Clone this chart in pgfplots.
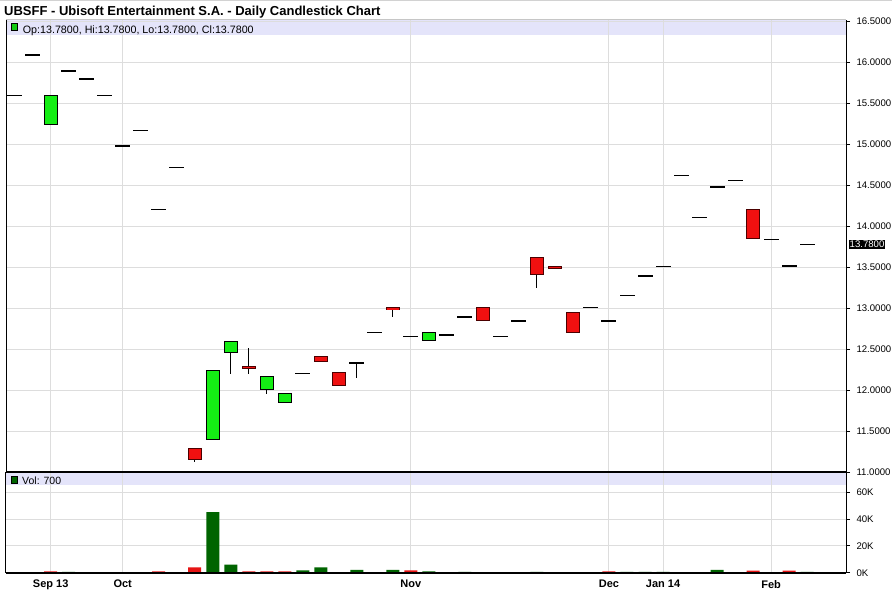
\documentclass[border=0pt]{standalone}
\usepackage{pgfplots}
\pgfplotsset{compat=1.18}
\usepackage{pgfplotstable}
\usepackage{fontspec}
\setmainfont{Liberation Sans}
\definecolor{bandc}{RGB}{228,228,250}
\definecolor{gridc}{RGB}{221,221,221}
\definecolor{upc}{RGB}{20,238,20}
\definecolor{dnc}{RGB}{240,16,16}
\definecolor{dnb}{RGB}{75,0,0}
\definecolor{vup}{RGB}{0,100,0}
\definecolor{vdn}{RGB}{230,20,20}

% rising candles (close > open)
\pgfplotstableread{
x  o     c
2  15.24 15.60
11 11.40 12.24
12 12.46 12.59
14 12.01 12.17
15 11.85 11.96
23 12.61 12.71
}\upc
% falling candles (close < open)
\pgfplotstableread{
x  o     c
10 11.29 11.16
13 12.29 12.27
17 12.41 12.35
18 12.22 12.06
21 13.01 12.98
26 13.01 12.85
29 13.62 13.41
30 13.51 13.49
31 12.95 12.71
41 14.21 13.85
}\dnc
% flat candles (open = close); e = half line thickness in price units
\pgfplotstableread{
x  c     e
0  15.60 0.0061
1  16.09 0.0061
3  15.90 0.0061
4  15.80 0.0061
5  15.60 0.0061
6  14.98 0.0061
7  15.17 0.0061
8  14.21 0.0061
9  14.72 0.0061
16 12.21 0.0061
19 12.335 0.012
20 12.71 0.0061
22 12.66 0.0061
24 12.68 0.0061
25 12.90 0.0061
27 12.66 0.0061
28 12.85 0.0061
32 13.01 0.0061
33 12.85 0.0061
34 13.16 0.0061
35 13.40 0.0061
36 13.51 0.0061
37 14.62 0.0061
38 14.11 0.0061
39 14.48 0.0061
40 14.56 0.0061
42 13.84 0.0061
43 13.515 0.012
44 13.78 0.0061
}\flatc
% high / low
\pgfplotstableread{
x  h     l
2  15.60 15.24
10 11.29 11.13
11 12.24 11.40
12 12.59 12.20
13 12.51 12.20
14 12.17 11.96
15 11.96 11.85
17 12.41 12.35
18 12.22 12.06
19 12.35 12.15
21 13.01 12.90
23 12.71 12.61
26 13.01 12.85
29 13.62 13.25
30 13.51 13.49
31 12.95 12.71
41 14.21 13.85
}\hilo
% volume, close above previous close
\pgfplotstableread{
x  v
0  100
1  100
3  700
7  100
9  100
11 45300
12 6000
16 1700
17 4000
19 2200
20 100
21 2200
23 1000
25 700
28 100
29 700
30 100
32 100
34 700
35 700
36 700
37 100
39 2200
40 100
44 700
}\volup
% volume, close below previous close
\pgfplotstableread{
x  v
2  1000
4  100
5  100
6  100
8  1000
10 4000
13 1000
14 1000
15 1000
18 100
22 1700
24 100
26 100
27 100
31 100
33 1000
38 100
41 1500
42 100
43 1500
}\voldn

\pgfplotsset{
  common/.style={
    scale only axis, width=840pt, xmin=-0.48, xmax=46.16,
    axis line style={draw=none},
    xtick={2,6,22,33,36,42},
    xtick style={draw=none},
    ytick pos=right, yticklabel pos=right,
    tick align=outside, major tick length=4pt,
    y tick style={black, line width=1pt},
    grid=major, grid style={gridc, line width=1pt},
    /pgf/number format/assume math mode=true,
    anchor=north west, clip=false,
  },
  errb/.style 2 args={only marks, mark=*, mark options={draw=none, fill=none, draw opacity=0, fill opacity=0}, forget plot,
    error bars/.cd, y dir=both, y explicit, error mark=none,
    error bar style={#1, line width=#2, solid, draw opacity=1}},
}

\begin{document}
\begin{tikzpicture}
\useasboundingbox (0,0) rectangle (892pt,-590pt);
\draw[gray!35, line width=1pt] (0,-0.5pt) -- (892pt,-0.5pt);
\node[anchor=base west, inner sep=0, font=\bfseries\fontsize{13}{15}\selectfont] at (4pt,-15pt) {UBSFF - Ubisoft Entertainment S.A. - Daily Candlestick Chart};
% header bands (drawn under the axes' grids)
\fill[bandc] (6pt,-19.5pt) rectangle (846pt,-35pt);
\fill[bandc] (6pt,-472.3pt) rectangle (846pt,-485pt);

\begin{axis}[common, at={(6pt,-19.5pt)}, height=452.8pt,
  ymin=11, ymax=16.522,
  xticklabels={},
  ytick={11,11.5,12,12.5,13,13.5,14,14.5,15,15.5,16,16.5},
  yticklabel style={font=\fontsize{9.6}{10}\selectfont, xshift=3pt,
    /pgf/number format/.cd, fixed, fixed zerofill, precision=4},
]
% wicks
\addplot[errb={black}{1pt}]
  table[x=x, y expr={(\thisrow{h}+\thisrow{l})/2}, y error expr={(\thisrow{h}-\thisrow{l})/2}] {\hilo};
% rising bodies
\addplot[errb={black}{14.3pt}]
  table[x=x, y expr={(\thisrow{o}+\thisrow{c})/2}, y error expr={(\thisrow{c}-\thisrow{o})/2+0.0061}] {\upc};
\addplot[errb={upc}{12.3pt}]
  table[x=x, y expr={(\thisrow{o}+\thisrow{c})/2}, y error expr={(\thisrow{c}-\thisrow{o})/2-0.0061}] {\upc};
% falling bodies
\addplot[errb={dnb}{14.3pt}]
  table[x=x, y expr={(\thisrow{o}+\thisrow{c})/2}, y error expr={(\thisrow{o}-\thisrow{c})/2+0.0061}] {\dnc};
\addplot[errb={dnc}{12.3pt}]
  table[x=x, y expr={(\thisrow{o}+\thisrow{c})/2}, y error expr={(\thisrow{o}-\thisrow{c})/2-0.0061}] {\dnc};
% flat candles
\addplot[errb={black}{15pt}]
  table[x=x, y=c, y error=e] {\flatc};
% borders and header
\draw[black, line width=1pt] (rel axis cs:0,0) -- (rel axis cs:0,1);
\draw[black, line width=1pt] (rel axis cs:1,0) -- (rel axis cs:1,1);
\draw[gray!45, line width=1pt] (rel axis cs:0,1) -- (rel axis cs:1,1);
\filldraw[fill=upc!85!black, draw=black, line width=0.8pt] ([xshift=5pt,yshift=-3.8pt]rel axis cs:0,1) rectangle ([xshift=11.3pt,yshift=-10.5pt]rel axis cs:0,1);
\node[anchor=base west, inner sep=0, font=\fontsize{10.7}{12}\selectfont] at ([xshift=16.7pt,yshift=-13.8pt]rel axis cs:0,1) {Op:13.7800, Hi:13.7800, Lo:13.7800, Cl:13.7800};
\node[anchor=west, fill=black, text=white, inner sep=1pt, font=\fontsize{9.6}{10}\selectfont] at ([xshift=2.5pt]axis cs:46.16,13.78) {13.7800};
\end{axis}

\begin{axis}[common, at={(6pt,-472.3pt)}, height=100.4pt,
  ymin=0, ymax=74925,
  xticklabels={Sep 13,Oct,Nov,Dec,Jan 14,Feb},
  xticklabel style={font=\bfseries\fontsize{11}{12}\selectfont},
  ytick={0,20000,40000,60000}, yticklabels={0K,20K,40K,60K},
  yticklabel style={font=\fontsize{9.6}{10}\selectfont, xshift=3pt},
  scaled y ticks=false,
]
\addplot[ybar, bar width=13pt, bar shift=0pt, fill=vup, draw=none, forget plot] table[x=x, y=v] {\volup};
\addplot[ybar, bar width=13pt, bar shift=0pt, fill=vdn, draw=none, forget plot] table[x=x, y=v] {\voldn};
\draw[black, line width=1pt] (rel axis cs:0,0) -- (rel axis cs:0,1);
\draw[black, line width=1pt] (rel axis cs:1,0) -- (rel axis cs:1,1);
\draw[black, line width=1.6pt] (rel axis cs:0,0) -- (rel axis cs:1,0);
\draw[black, line width=2pt] (rel axis cs:0,1) -- (rel axis cs:1,1);
\filldraw[fill=vup, draw=black, line width=0.8pt] ([xshift=5pt,yshift=-4.4pt]rel axis cs:0,1) rectangle ([xshift=11.3pt,yshift=-11pt]rel axis cs:0,1);
\node[anchor=base west, inner sep=0, font=\fontsize{10.5}{12}\selectfont] at ([xshift=16pt,yshift=-11.7pt]rel axis cs:0,1) {Vol: 700};
\end{axis}
\end{tikzpicture}
\end{document}
